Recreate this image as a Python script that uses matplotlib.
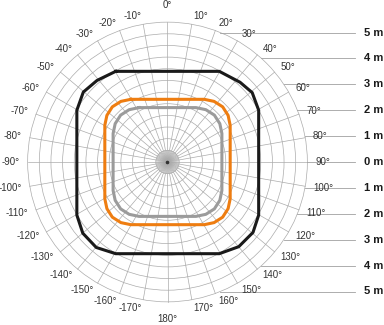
import numpy as np
import matplotlib
matplotlib.use("Agg")
import matplotlib.pyplot as plt
from matplotlib.patches import Circle

# chart values (metres, centre of sensor at 0,0)
black_x = [-2.0, 2.0, 2.8, 3.27, 3.52, 3.52, 3.3, 2.75, 2.0, -2.0, -2.75, -3.27, -3.5, -3.5, -3.25, -2.72, -2.0]
black_y = [3.5, 3.5, 3.08, 2.68, 2.0, -2.05, -2.72, -3.27, -3.54, -3.54, -3.3, -2.75, -2.05, 2.0, 2.7, 3.15, 3.5]

orange_x = [-1.42, 1.42, 1.80, 2.13, 2.34, 2.42, 2.42, 2.34, 2.13, 1.80, 1.42, -1.42, -1.80, -2.13, -2.34, -2.42, -2.42, -2.34, -2.13, -1.80, -1.42]
orange_y = [2.42, 2.42, 2.34, 2.13, 1.80, 1.42, -1.42, -1.80, -2.13, -2.34, -2.42, -2.42, -2.34, -2.13, -1.80, -1.42, 1.42, 1.80, 2.13, 2.34, 2.42]

grey_x = [-1.10, 1.10, 1.48, 1.81, 2.02, 2.10, 2.10, 2.02, 1.81, 1.48, 1.10, -1.10, -1.48, -1.81, -2.02, -2.10, -2.10, -2.02, -1.81, -1.48, -1.10]
grey_y = [2.10, 2.10, 2.02, 1.81, 1.48, 1.10, -1.10, -1.48, -1.81, -2.02, -2.10, -2.10, -2.02, -1.81, -1.48, -1.10, 1.10, 1.48, 1.81, 2.02, 2.10]

metre_ticks = [5, 4, 3, 2, 1, 0, -1, -2, -3, -4, -5]
metre_labels = ["5 m", "4 m", "3 m", "2 m", "1 m", "0 m", "1 m", "2 m", "3 m", "4 m", "5 m"]

angle_ticks = list(range(-170, 190, 10))
angle_labels = [f"{a}°" for a in angle_ticks]

R_OUT = 5.4      # outer grid circle
N_RINGS = 12
PX = 25.9        # pixels per metre in the output

plt.rcParams['font.family'] = ['Liberation Sans', 'DejaVu Sans']

fig = plt.figure(figsize=(3.84, 3.25), dpi=100)
ax = fig.add_axes([0, 0, 1, 1])
ax.set_xlim(-167.5 / PX, (384 - 167.5) / PX)
ax.set_ylim(-163 / PX, 162 / PX)
ax.axis('off')

grid_col = '#ababab'
for k in range(1, N_RINGS + 1):
    ax.add_patch(Circle((0, 0), R_OUT * k / N_RINGS, fill=False, ec=grid_col, lw=0.5))
for a in range(0, 360, 10):
    t = np.deg2rad(a)
    ax.plot([0, R_OUT * np.sin(t)], [0, R_OUT * np.cos(t)], color=grid_col, lw=0.5)
# denser spokes around the hub
for a in range(5, 360, 10):
    t = np.deg2rad(a)
    r_in = R_OUT / N_RINGS
    ax.plot([0, r_in * np.sin(t)], [0, r_in * np.cos(t)], color=grid_col, lw=0.5)
ax.plot([0], [0], 'o', ms=1.6, color='#333333')

# metre lines on the right
x_end = (355 - 167.5) / PX
for y, lab in zip(metre_ticks, metre_labels):
    x0 = np.sqrt(max(R_OUT ** 2 - y ** 2, 0))
    ax.plot([x0, x_end], [y, y], color='#a0a0a0', lw=0.6)
    ax.text((364.5 - 167.5) / PX, y, lab, ha='left', va='center',
            fontsize=8, fontweight='bold', color='#1a1a1a')

# angle labels
for a, lab in zip(angle_ticks, angle_labels):
    t = np.deg2rad(a)
    if a in (0, 180):
        r = R_OUT + 17 / PX
        ha = 'center'
    else:
        r = R_OUT + 8 / PX
        ha = 'left' if a > 0 else 'right'
    ax.text(r * np.sin(t), r * np.cos(t), lab, ha=ha, va='center',
            fontsize=7, color='#333333')

ax.plot(black_x, black_y, color='#1a1a1a', lw=2.2)
ax.plot(orange_x, orange_y, color='#ee7d11', lw=2.2)
ax.plot(grey_x, grey_y, color='#9b9b9b', lw=2.2)

fig.savefig("out.png", dpi=100)
